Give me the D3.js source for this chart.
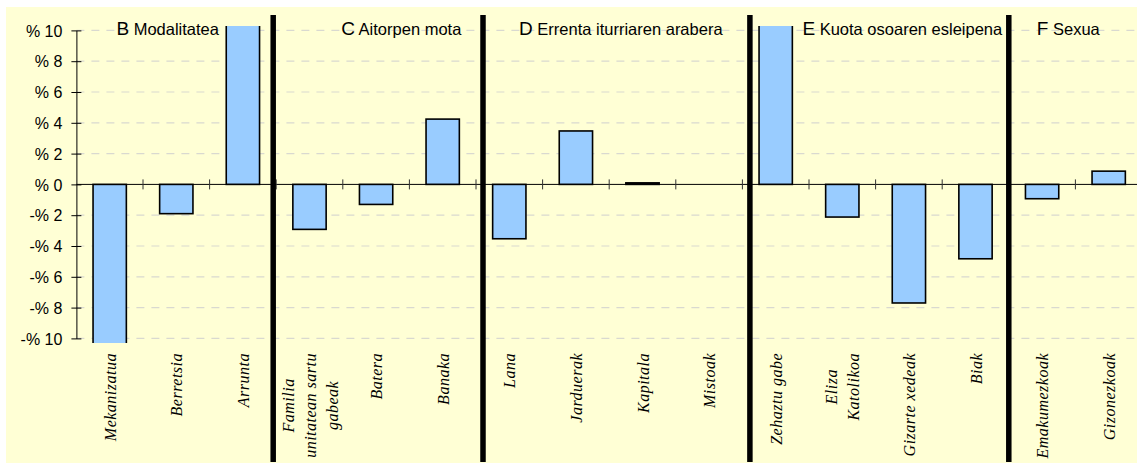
<!DOCTYPE html>
<html>
<head>
<meta charset="utf-8">
<script src="https://cdn.jsdelivr.net/npm/d3@7"></script>
<style>
  body { margin: 0; background: #fff; }
  .tick-label { font-family: "Liberation Sans", Arial, sans-serif; font-size: 16px; fill: #000; }
  .cat-label { font-family: "Liberation Serif", "Times New Roman", serif; font-style: italic; font-size: 16px; letter-spacing: 0.5px; fill: #000; }
  .group-label { font-family: "Liberation Sans", Arial, sans-serif; fill: #000; }
</style>
</head>
<body>
<svg id="chart" width="1137" height="466"></svg>
<script>
// categories (line breaks mark wrapped labels)
var categories = [
  'Mekanizatua', 'Berretsia', 'Arrunta',
  'Familia\nunitatean sartu\ngabeak', 'Batera', 'Banaka',
  'Lana', 'Jarduerak', 'Kapitala', 'Mistoak',
  'Zehaztu gabe', 'Eliza\nKatolikoa', 'Gizarte xedeak', 'Biak',
  'Emakumezkoak', 'Gizonezkoak'
];

// percent differences; the three big ones run past the axis and get clipped
var values = [-14, -1.9, 14, -2.92, -1.3, 4.24, -3.53, 3.47, 0.1, 0, 14, -2.12, -7.7, -4.83, -0.93, 0.86];

var groupLetters = ['B', 'C', 'D', 'E', 'F'];
var groupNames = ['Modalitatea', 'Aitorpen mota', 'Errenta iturriaren arabera', 'Kuota osoaren esleipena', 'Sexua'];
var groupSizes = [3, 3, 4, 4, 2];

var yTicks = [-10, -8, -6, -4, -2, 0, 2, 4, 6, 8, 10];

// layout tweaks (px) for the hand placed separators and titles
var sepShift = [-3, 7, 7.5, 0];
var titleDx = [40, 65, 43, 60, 28];

var svg = d3.select('#chart');

var left = 76.4, step = 66.6;
var x = d3.scaleBand()
  .domain(d3.range(categories.length))
  .range([left, left + step * categories.length])
  .paddingInner(0.5)
  .paddingOuter(0.25);

var y = d3.scaleLinear().domain([-10, 10]).range([338.4, 30.4]);

var boundary = function(i) { return left + i * x.step(); };

// background panel
svg.append('rect')
  .attr('x', 6).attr('y', 7)
  .attr('width', 1131).attr('height', 456)
  .attr('fill', '#FFFFD5');

// grid
svg.append('g').selectAll('line.grid')
  .data(yTicks.filter(function(d) { return d !== 0; }))
  .enter().append('line')
  .attr('class', 'grid')
  .attr('x1', left).attr('x2', 1137)
  .attr('y1', function(d) { return y(d); })
  .attr('y2', function(d) { return y(d); })
  .attr('stroke', '#d9d9d0')
  .attr('stroke-width', 1.2)
  .attr('stroke-dasharray', '8,7');

// bars, clipped slightly outside the axis range
svg.append('clipPath').attr('id', 'plotclip')
  .append('rect')
  .attr('x', 0).attr('width', 1137)
  .attr('y', y(10) - 4.5)
  .attr('height', y(-10) - y(10) + 9);

var barData = values.map(function(v, i) { return { i: i, v: v }; })
  .filter(function(d) { return d.v !== 0; });

svg.append('g').attr('clip-path', 'url(#plotclip)')
  .selectAll('rect.bar')
  .data(barData)
  .enter().append('rect')
  .attr('class', 'bar')
  .attr('x', function(d) { return x(d.i); })
  .attr('width', x.bandwidth())
  .attr('y', function(d) { return Math.min(y(d.v), y(0)); })
  .attr('height', function(d) { return Math.abs(y(d.v) - y(0)); })
  .attr('fill', '#99CCFF')
  .attr('stroke', '#000')
  .attr('stroke-width', 1.6);

// zero line and category ticks
svg.append('line')
  .attr('x1', left).attr('x2', 1137)
  .attr('y1', y(0)).attr('y2', y(0))
  .attr('stroke', '#000').attr('stroke-width', 1);

svg.append('g').selectAll('line.xtick')
  .data(d3.range(1, categories.length))
  .enter().append('line')
  .attr('x1', boundary).attr('x2', boundary)
  .attr('y1', y(0) - 5).attr('y2', y(0) + 5)
  .attr('stroke', '#333').attr('stroke-width', 1);

// y axis
var yAxis = d3.axisLeft(y)
  .tickValues(yTicks)
  .tickSizeInner(5)
  .tickSizeOuter(0)
  .tickFormat(function(d) { return d < 0 ? '-% ' + (-d) : '% ' + d; });

var ya = svg.append('g')
  .attr('transform', 'translate(' + left + ',0)')
  .call(yAxis);
ya.select('.domain').attr('stroke', '#000');
ya.selectAll('.tick line').attr('x1', -5).attr('x2', 5).attr('stroke', '#000');
ya.selectAll('.tick text')
  .attr('class', 'tick-label')
  .attr('x', -14)
  .attr('dy', '0.35em')
  .attr('font-family', null).attr('font-size', null);

// category labels, rotated, top aligned, wrapped lines centred
var labelTop = 353, lineGap = 22;
var cats = svg.append('g').selectAll('g.cat')
  .data(categories)
  .enter().append('g')
  .attr('class', 'cat');

cats.each(function(label, i) {
  var g = d3.select(this);
  var lines = label.split('\n');
  var texts = g.selectAll('text')
    .data(lines)
    .enter().append('text')
    .attr('class', 'cat-label')
    .attr('text-anchor', 'middle')
    .text(function(d) { return d; });
  var maxLen = d3.max(texts.nodes(), function(n) { return n.getComputedTextLength(); });
  var cx = x(i) + x.bandwidth() / 2;
  texts.attr('transform', function(d, k) {
    var bx = cx + (k - (lines.length - 1) / 2) * lineGap + 6;
    return 'translate(' + bx + ',' + (labelTop + maxLen / 2) + ')rotate(-90)';
  });
});

// group separators and titles
var starts = [0];
groupSizes.forEach(function(s, k) { starts.push(starts[k] + s); });

svg.append('g').selectAll('line.sep')
  .data(starts.slice(1, groupSizes.length))
  .enter().append('line')
  .attr('class', 'sep')
  .attr('x1', function(d, k) { return boundary(d) + sepShift[k]; })
  .attr('x2', function(d, k) { return boundary(d) + sepShift[k]; })
  .attr('y1', 15).attr('y2', 462)
  .attr('stroke', '#000').attr('stroke-width', 5.5);

var titles = svg.append('g').selectAll('text.group-label')
  .data(groupNames)
  .enter().append('text')
  .attr('class', 'group-label')
  .attr('x', function(d, k) { return boundary(starts[k]) + titleDx[k]; })
  .attr('y', 35);

titles.append('tspan')
  .attr('font-size', '19px')
  .text(function(d, k) { return groupLetters[k]; });
titles.append('tspan')
  .attr('font-size', '16.5px')
  .text(function(d) { return ' ' + d; });
</script>
</body>
</html>
